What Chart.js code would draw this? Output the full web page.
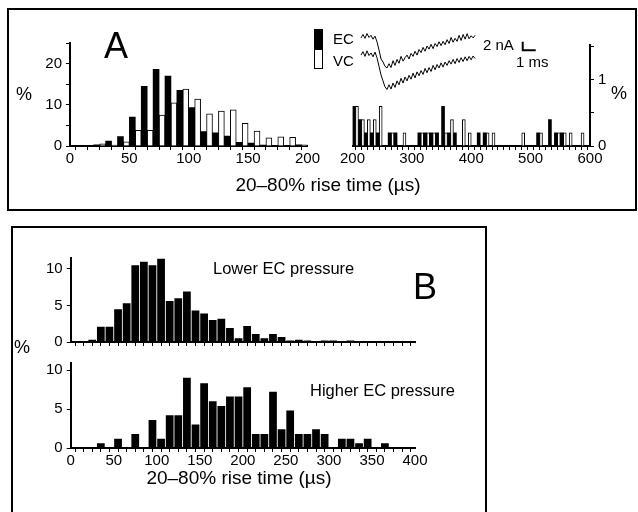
<!DOCTYPE html>
<html>
<head>
<meta charset="utf-8">
<script src="https://cdn.jsdelivr.net/npm/chart.js@4.4.1/dist/chart.umd.min.js"></script>
<style>
  body { margin: 0; background: #fff; }
  #fig { position: relative; width: 638px; height: 512px; overflow: hidden; background: #fff;
    font-family: "Liberation Sans", Arial, Helvetica, sans-serif; color: #000; }
  #fig canvas { position: absolute; }
  .box { position: absolute; border: 2px solid #000; box-sizing: border-box; }
  .t { position: absolute; white-space: nowrap; line-height: 1; transform: translate(-50%, -50%); }
  .l { position: absolute; white-space: nowrap; line-height: 1; transform: translateY(-50%); }
  .sw { position: absolute; width: 9px; height: 20px; border: 1px solid #000; box-sizing: border-box; }
</style>
</head>
<body>
<div id="fig">
  <div class="box" style="left:7px;top:8px;width:630px;height:203px"></div>
  <div class="box" style="left:11px;top:226px;width:476px;height:300px"></div>

  <canvas id="aLeft" width="300" height="150" style="left:20px;top:30px"></canvas>
  <canvas id="aRight" width="290" height="150" style="left:340px;top:30px"></canvas>
  <canvas id="traces" width="204" height="78" style="left:355px;top:25px"></canvas>
  <canvas id="bTop" width="410" height="110" style="left:20px;top:245px"></canvas>
  <canvas id="bBottom" width="410" height="140" style="left:20px;top:350px"></canvas>

  <!-- panel A text -->
  <div class="t" style="left:116px;top:46px;font-size:36px">A</div>
  <div class="t" style="left:24px;top:94px;font-size:18px">%</div>
  <div class="t" style="left:619px;top:93px;font-size:18px">%</div>
  <div class="t" style="left:328px;top:184px;font-size:19px">20–80% rise time (µs)</div>
  <div class="sw" style="left:314px;top:29px;background:#000"></div>
  <div class="sw" style="left:314px;top:49px;background:#fff"></div>
  <div class="l" style="left:333px;top:38px;font-size:15px">EC</div>
  <div class="l" style="left:333px;top:60px;font-size:15px">VC</div>
  <div class="l" style="left:483px;top:44px;font-size:15px">2 nA</div>
  <div class="l" style="left:516px;top:61px;font-size:15px">1 ms</div>

  <!-- panel B text -->
  <div class="t" style="left:425px;top:287px;font-size:36px">B</div>
  <div class="t" style="left:22px;top:347px;font-size:18px">%</div>
  <div class="l" style="left:213px;top:268px;font-size:16.5px">Lower EC pressure</div>
  <div class="l" style="left:310px;top:390px;font-size:16.5px">Higher EC pressure</div>
  <div class="t" style="left:239px;top:477px;font-size:19px">20–80% rise time (µs)</div>
</div>

<script>
// Panel A, 0-200 us (bin start, % of events)
const aLeftBins = [0, 10, 20, 30, 40, 50, 60, 70, 80, 90, 100, 110, 120, 130, 140, 150, 160, 170, 180, 190];
const aLeftEC = [0, 0, 0.3, 1.2, 2.3, 7.0, 14.5, 18.6, 17.0, 13.5, 9.3, 3.5, 3.2, 2.4, 0.9, 0.7, 0.2, 0, 0.1, 0.3];
const aLeftVC = [0, 0, 0.5, 0.2, 1.0, 3.8, 3.8, 7.5, 10.5, 13.8, 11.4, 7.8, 8.5, 8.8, 5.5, 3.6, 2.0, 2.2, 2.1, 0.3];

// Panel A, 200-600 us tail
const aRightBins = [200, 210, 220, 230, 240, 250, 260, 270, 280, 290, 300, 310, 320, 330, 340, 350, 360, 370, 380, 390,
  400, 410, 420, 430, 440, 450, 460, 470, 480, 490, 500, 510, 520, 530, 540, 550, 560, 570, 580, 590];
const aRightEC = [0.6, 0.4, 0.2, 0.2, 0.2, 0, 0.2, 0.2, 0, 0, 0, 0.2, 0.2, 0.2, 0.2, 0.6, 0.2, 0.2, 0, 0,
  0, 0.2, 0.2, 0, 0, 0, 0, 0, 0, 0, 0, 0.2, 0, 0.4, 0.2, 0.2, 0, 0, 0, 0];
const aRightVC = [0.6, 0.4, 0.4, 0.4, 0.6, 0, 0.2, 0, 0.2, 0, 0, 0.2, 0.2, 0.2, 0, 0.2, 0.4, 0, 0.4, 0.2,
  0, 0, 0.2, 0.2, 0, 0, 0, 0, 0.2, 0, 0, 0.2, 0, 0, 0.2, 0.2, 0.2, 0, 0.2, 0];

// Panel B, 0-400 us
const bBins = [0, 10, 20, 30, 40, 50, 60, 70, 80, 90, 100, 110, 120, 130, 140, 150, 160, 170, 180, 190,
  200, 210, 220, 230, 240, 250, 260, 270, 280, 290, 300, 310, 320, 330, 340, 350, 360, 370, 380, 390];
const lowerEC = [0, 0, 0.3, 2.1, 2.1, 4.5, 5.3, 10.5, 11.0, 10.5, 11.4, 5.6, 6.0, 6.9, 4.3, 3.9, 3.0, 3.2, 1.9, 0.5,
  2.2, 1.1, 0.5, 1.1, 0.7, 0.2, 0.3, 0.2, 0.1, 0.2, 0.2, 0.1, 0.2, 0, 0, 0, 0, 0, 0, 0];
const higherEC = [0, 0, 0, 0.6, 0, 1.2, 0, 1.8, 0, 3.6, 1.2, 4.2, 4.2, 9.0, 3.0, 8.3, 6.0, 5.4, 6.6, 6.6,
  7.8, 1.8, 1.8, 7.2, 2.4, 4.8, 1.8, 1.8, 2.4, 1.8, 0, 1.2, 1.2, 0.6, 1.2, 0, 0.6, 0, 0, 0];

// tick labels
const aLeftYLabels = [0, 10, 20];
const aRightYLabels = [0, 1];
const bYLabels = [0, 5, 10];

// example currents (nA) sampled every traceStep ms
const traceStart = 0.46;
const traceStep = 0.154;
const ecTrace = [-3.0, -2.2, -3.1, -2.0, -2.9, -2.4, -3.3, -2.6, -3.9, -5.8, -7.9, -8.6, -9.6, -10.0, -9.0, -9.9,
  -8.3, -9.4, -8.0, -8.9, -7.3, -8.4, -7.6, -7.0, -7.9, -6.6, -7.3, -6.1, -7.0, -5.7, -6.4, -5.2, -6.1, -4.9,
  -5.6, -4.5, -5.5, -4.3, -5.0, -3.9, -4.8, -3.8, -4.6, -3.4, -4.3, -2.9, -4.0, -3.1, -3.8, -2.4, -3.6, -2.2,
  -3.3, -2.0, -3.2, -2.5, -3.0, -2.4];
const vcTrace = [-7.0, -6.2, -7.3, -6.0, -7.1, -6.5, -7.4, -6.3, -7.6, -9.6, -11.6, -13.0, -14.4, -15.0, -13.9, -14.9,
  -13.5, -14.5, -13.0, -13.9, -12.4, -13.5, -12.1, -13.0, -11.7, -12.6, -11.2, -12.3, -10.9, -11.8, -10.6, -11.5,
  -10.1, -11.1, -9.9, -10.8, -9.4, -10.4, -9.2, -10.0, -8.8, -9.8, -8.6, -9.4, -8.3, -9.1, -8.0, -9.0, -7.8,
  -8.7, -7.6, -8.5, -7.4, -8.3, -7.3, -8.1, -7.2, -7.8];
// scale bar: 1 ms x 2 nA
const scaleBarX = [12.9, 12.9, 13.9];
const scaleBarY = [-3.9, -5.9, -5.9];

const black = "#000";
Chart.defaults.font.family = "'Liberation Sans', Arial, Helvetica, sans-serif";
Chart.defaults.font.size = 15;
Chart.defaults.color = black;
Chart.defaults.animation = false;
Chart.defaults.responsive = false;
Chart.defaults.plugins.legend.display = false;
Chart.defaults.plugins.tooltip.enabled = false;

// bars sit in the middle of each 10 us bin
const toBars = (bins, vals) => vals.map((v, i) => ({ x: bins[i] + 5, y: v }));

function xAxis(min, max, labelEvery, height) {
  return {
    type: "linear",
    min: min,
    max: max,
    offset: false,
    grid: { drawOnChartArea: false, tickLength: 4, color: black, lineWidth: 1 },
    border: { color: black, width: 2 },
    ticks: {
      stepSize: 10,
      autoSkip: false,
      maxRotation: 0,
      padding: 0,
      callback: (v) => (labelEvery && v % labelEvery === 0 ? v : ""),
    },
    afterFit: (s) => { s.height = height; },
  };
}

function yAxis(max, step, labels, width, pos) {
  return {
    position: pos || "left",
    min: 0,
    max: max,
    grid: { drawOnChartArea: false, tickLength: 4, color: black, lineWidth: 1 },
    border: { color: black, width: 2 },
    ticks: {
      stepSize: step,
      autoSkip: false,
      includeBounds: false,
      padding: 4,
      callback: (v) => (labels.includes(v) ? v : ""),
    },
    afterFit: (s) => { s.width = width; },
  };
}

function ecSet(bins, vals, pct) {
  return { data: toBars(bins, vals), backgroundColor: black, borderWidth: 0,
    barPercentage: pct, categoryPercentage: 1 };
}
function vcSet(bins, vals) {
  return { data: toBars(bins, vals), backgroundColor: "#fff", borderColor: black, borderWidth: 1,
    barPercentage: 1, categoryPercentage: 1 };
}

// Chart 1: panel A, short rise times
new Chart(document.getElementById("aLeft"), {
  type: "bar",
  data: { datasets: [ecSet(aLeftBins, aLeftEC, 1), vcSet(aLeftBins, aLeftVC)] },
  options: {
    layout: { padding: { top: 13, right: 8, left: 0, bottom: 0 } },
    scales: { x: xAxis(0, 200, 50, 34), y: yAxis(25, 5, aLeftYLabels, 50) },
  },
});

// Chart 2: panel A, tail 200-600 us, right hand axis
new Chart(document.getElementById("aRight"), {
  type: "bar",
  data: { datasets: [ecSet(aRightBins, aRightEC, 1), vcSet(aRightBins, aRightVC)] },
  options: {
    layout: { padding: { top: 15, right: 0, left: 8, bottom: 0 } },
    scales: { x: xAxis(200, 600, 100, 34), y: yAxis(1.53, 0.5, aRightYLabels, 40, "right") },
  },
});

// Chart 3: example EC / VC currents
const traceXY = (vals) => vals.map((v, i) => ({ x: traceStart + i * traceStep, y: v }));
new Chart(document.getElementById("traces"), {
  type: "line",
  data: {
    datasets: [
      { data: traceXY(ecTrace), borderColor: black, borderWidth: 1, pointRadius: 0 },
      { data: traceXY(vcTrace), borderColor: black, borderWidth: 1, pointRadius: 0 },
      { data: scaleBarX.map((x, i) => ({ x: x, y: scaleBarY[i] })), borderColor: black, borderWidth: 2, pointRadius: 0 },
    ],
  },
  options: {
    layout: { padding: 0 },
    scales: {
      x: { type: "linear", min: 0, max: 15.69, display: false },
      y: { min: -18.14, max: 0, display: false },
    },
  },
});

// Chart 4 + 5: panel B
new Chart(document.getElementById("bTop"), {
  type: "bar",
  data: { datasets: [ecSet(bBins, lowerEC, 0.9)] },
  options: {
    layout: { padding: { top: 10, right: 15, left: 0, bottom: 0 } },
    scales: { x: xAxis(0, 400, 0, 8), y: yAxis(11.5, 5, bYLabels, 50.7) },
  },
});

new Chart(document.getElementById("bBottom"), {
  type: "bar",
  data: { datasets: [ecSet(bBins, higherEC, 0.9)] },
  options: {
    layout: { padding: { top: 10, right: 15, left: 0, bottom: 0 } },
    scales: { x: xAxis(0, 400, 50, 42), y: yAxis(10.9, 5, bYLabels, 50.7) },
  },
});
</script>
</body>
</html>
